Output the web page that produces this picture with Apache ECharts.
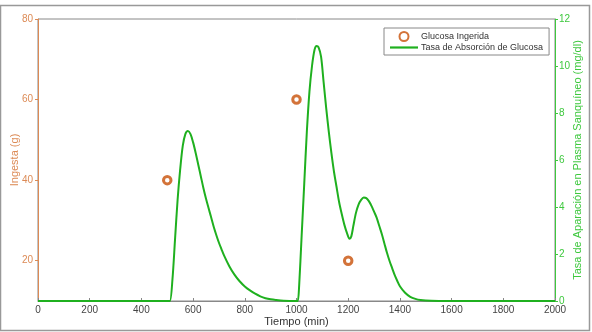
<!DOCTYPE html>
<html>
<head>
<meta charset="utf-8">
<script src="https://cdn.jsdelivr.net/npm/echarts@6/dist/echarts.min.js"></script>
<style>
  html, body { margin: 0; padding: 0; background: #fff; }
  #chart { width: 592px; height: 332px; }
</style>
</head>
<body>
<div id="chart"></div>
<script>
// glucosa ingerida (g) en cada comida
var mealTimes = [500, 1000, 1200];
var mealGrams = [40, 60, 20];

// tasa de aparicion
var rateTimes = [0, 500, 510, 520, 530, 540, 550, 560, 570, 580, 590, 600, 610, 620, 630, 640, 650,
  660, 670, 680, 690, 700, 710, 720, 740, 760, 780, 800, 820, 840, 860, 880, 900, 920, 950, 1000, 1005,
  1010, 1020, 1030, 1040, 1050, 1060, 1070, 1078, 1085, 1095, 1105, 1115, 1125, 1135, 1145, 1155,
  1165, 1175, 1185, 1195, 1205, 1212, 1220, 1230, 1240, 1250, 1260, 1270, 1280, 1290, 1300, 1310,
  1320, 1330, 1340, 1350, 1360, 1370, 1380, 1390, 1400, 1420, 1440, 1460, 1480, 1500, 1550, 1600, 2000];
var rateValues = [0, 0, 0, 0.9, 2.6, 4.3, 5.6, 6.6, 7.1, 7.23, 7.1, 6.75, 6.3, 5.8, 5.3, 4.8, 4.35,
  3.95, 3.55, 3.15, 2.8, 2.48, 2.2, 1.93, 1.48, 1.12, 0.84, 0.62, 0.45, 0.31, 0.2, 0.12, 0.07, 0.04, 0.01, 0, 0,
  0.6, 2.8, 5.0, 7.2, 8.9, 10.0, 10.7, 10.85, 10.8, 10.4, 9.3, 8.2, 7.2, 6.3, 5.5, 4.85,
  4.2, 3.7, 3.25, 2.9, 2.65, 2.75, 3.2, 3.75, 4.1, 4.3, 4.4, 4.38, 4.25, 4.05, 3.8, 3.55,
  3.2, 2.85, 2.45, 2.05, 1.7, 1.4, 1.1, 0.85, 0.63, 0.35, 0.18, 0.09, 0.04, 0.02, 0.005, 0, 0];

var leftTicks = [20, 40, 60, 80];

var orange = '#dc8a55';
var marker = '#c85008';
var green = '#1fb01f';
var greenAxis = '#3ec83e';
var grey = '#888';

var chart = echarts.init(document.getElementById('chart'));

var mealData = mealTimes.map(function (t, i) { return [t, mealGrams[i]]; });
var rateData = rateTimes.map(function (t, i) { return [t, rateValues[i]]; });

var option = {
  animation: false,
  textStyle: { fontFamily: 'Liberation Sans' },
  graphic: [{
    type: 'rect',
    shape: { x: 0.5, y: 5.5, width: 589, height: 325 },
    style: { fill: 'none', stroke: '#999', lineWidth: 1.5 },
    silent: true
  }],
  grid: {
    left: 38, right: 37, top: 19, bottom: 31,
    outerBoundsMode: 'none',
    containLabel: false,
    show: true, borderColor: grey, borderWidth: 1
  },
  legend: {
    orient: 'vertical',
    left: 384, top: 28,
    padding: [3, 6, 3, 6],
    itemGap: 1,
    itemWidth: 28, itemHeight: 9,
    borderColor: grey, borderWidth: 1,
    backgroundColor: '#fff',
    textStyle: { fontSize: 9, color: '#333', padding: [0, 0, 0, -2] },
    data: [
      { name: 'Glucosa Ingerida' },
      { name: 'Tasa de Absorción de Glucosa', icon: 'path://M0,0 L28,0 L28,2.2 L0,2.2 Z' }
    ]
  },
  xAxis: {
    type: 'value',
    min: 0, max: 2000, interval: 200,
    name: 'Tiempo (min)',
    nameLocation: 'middle',
    nameGap: 15,
    nameMoveOverlap: false,
    nameTextStyle: { fontSize: 11, color: '#333' },
    axisLine: { lineStyle: { color: grey } },
    axisTick: { inside: true, length: 3, lineStyle: { color: grey } },
    axisLabel: { fontSize: 10, color: '#444', margin: 4, formatter: function (v) { return String(v); } },
    splitLine: { show: false }
  },
  yAxis: [{
    type: 'value',
    position: 'left',
    min: 10, max: 80,
    name: 'Ingesta (g)',
    nameLocation: 'middle',
    nameGap: 18,
    nameMoveOverlap: false,
    nameTextStyle: { fontSize: 11, color: orange },
    axisLine: { show: true, lineStyle: { color: orange } },
    axisTick: { show: true, length: 3, customValues: leftTicks, lineStyle: { color: orange } },
    axisLabel: { fontSize: 10, color: orange, margin: 5, customValues: leftTicks },
    splitLine: { show: false }
  }, {
    type: 'value',
    position: 'right',
    min: 0, max: 12, interval: 2,
    name: 'Tasa de Aparación en Plasma Sanquíneo (mg/dl)',
    nameLocation: 'middle',
    nameGap: 17,
    nameMoveOverlap: false,
    nameRotate: 90,
    nameTextStyle: { fontSize: 11, color: greenAxis },
    axisLine: { show: true, lineStyle: { color: greenAxis } },
    axisTick: { show: true, length: 3, lineStyle: { color: greenAxis } },
    axisLabel: { fontSize: 10, color: greenAxis, margin: 4 },
    splitLine: { show: false }
  }],
  series: [{
    name: 'Glucosa Ingerida',
    type: 'scatter',
    yAxisIndex: 0,
    symbol: 'circle',
    symbolSize: 7.5,
    itemStyle: { color: '#fff', borderColor: marker, borderWidth: 3 },
    data: mealData,
    z: 5
  }, {
    name: 'Tasa de Absorción de Glucosa',
    type: 'line',
    yAxisIndex: 1,
    symbol: 'none',
    smooth: 0.3,
    lineStyle: { color: green, width: 2 },
    itemStyle: { color: green },
    data: rateData,
    z: 4
  }]
};

chart.setOption(option);
</script>
</body>
</html>
